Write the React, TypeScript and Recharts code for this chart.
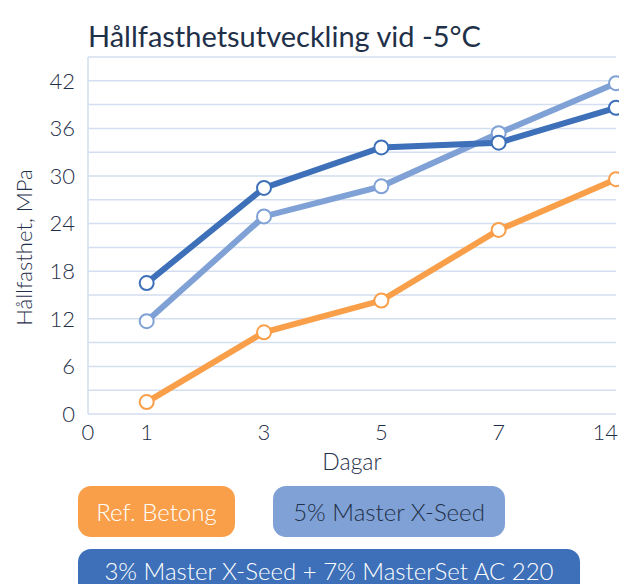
import React from 'react';
import { LineChart, Line, XAxis, YAxis, CartesianGrid, Label } from 'recharts';

// Days of measurement and where each sits on the (broken) x axis
const days = [1, 3, 5, 7, 14];
const dayAxisPositions = [1, 3, 5, 7, 9];

// Compressive strength, MPa
const refBetong = [1.5, 10.3, 14.3, 23.2, 29.6];
const masterXSeed5 = [11.7, 24.9, 28.7, 35.4, 41.7];
const xSeed3Set7 = [16.5, 28.5, 33.6, 34.2, 38.6];

// Axis ticks
const xTickPositions = [0, 1, 3, 5, 7, 9];
const xTickLabels = ['0', '1', '3', '5', '7', '14'];
const yTicks = [0, 3, 6, 9, 12, 15, 18, 21, 24, 27, 30, 33, 36, 39, 42, 45];
const yLabelledTicks = [0, 6, 12, 18, 24, 30, 36, 42];

const seriesNames = ['Ref. Betong', '5% Master X-Seed', '3% Master X-Seed + 7% MasterSet AC 220'];
const title = 'Hållfasthetsutveckling vid -5°C';
const yTitle = 'Hållfasthet, MPa';
const xTitle = 'Dagar';

const ORANGE = '#F99F49';
const LIGHT = '#7FA1D5';
const DARK = '#3D70B8';
const GRID = '#D3DEF0';
const TEXT = '#1F3049';
const FONT = 'Lato, "Open Sans", sans-serif';

const data = days.map((d, i) => ({
  pos: dayAxisPositions[i],
  day: d,
  ref: refBetong[i],
  x5: masterXSeed5[i],
  x3: xSeed3Set7[i],
}));

const dotStyle = (color: string) => ({ r: 7, fill: '#fff', stroke: color, strokeWidth: 2 });

const XTick = (props: any) => {
  const { x, y, payload, index } = props;
  const label = xTickLabels[xTickPositions.indexOf(payload.value)] ?? '';
  const isLast = index === xTickPositions.length - 1;
  return (
    <text
      x={isLast ? 618 : x}
      y={y}
      dy="0.71em"
      textAnchor={isLast ? 'end' : 'middle'}
      fill={TEXT}
      fontSize={22}
      fontWeight={300}
      fontFamily={FONT}
    >
      {label}
    </text>
  );
};

export default function App() {
  return (
    <div
      style={{
        position: 'fixed',
        left: 0,
        top: 0,
        width: 619,
        height: 584,
        overflow: 'hidden',
        background: '#fff',
        fontFamily: FONT,
      }}
    >
      <LineChart
        width={619}
        height={584}
        data={data}
        margin={{ top: 57, right: 3, bottom: 110, left: 28 }}
        style={{ fontFamily: FONT }}
      >
        <CartesianGrid vertical={false} stroke={GRID} strokeWidth={1.5} />
        <XAxis
          type="number"
          dataKey="pos"
          domain={[0, 9]}
          ticks={xTickPositions}
          interval={0}
          axisLine={false}
          tickLine={false}
          tickSize={0}
          tickMargin={10}
          height={60}
          tick={<XTick />}
        >
          <Label
            content={(props: any) => {
              const vb = props.viewBox || {};
              return (
                <text
                  x={vb.x + vb.width / 2}
                  y={vb.y + 56}
                  textAnchor="middle"
                  fill={TEXT}
                  fontSize={23}
                  fontWeight={300}
                  fontFamily={FONT}
                >
                  {xTitle}
                </text>
              );
            }}
          />
        </XAxis>
        <YAxis
          type="number"
          domain={[0, 45]}
          ticks={yTicks}
          interval={0}
          tickFormatter={(v: number) => (yLabelledTicks.includes(v) ? String(v) : '')}
          axisLine={{ stroke: GRID, strokeWidth: 1.5 }}
          tickLine={false}
          tickSize={0}
          tickMargin={13}
          width={60}
          tick={{ fill: TEXT, fontSize: 22, fontWeight: 300, fontFamily: FONT }}
        >
          <Label
            content={(props: any) => {
              const vb = props.viewBox || {};
              const cx = 31.5;
              const cy = vb.y + vb.height / 2 + 12;
              return (
                <text
                  x={cx}
                  y={cy}
                  transform={`rotate(-90 ${cx} ${cy})`}
                  textAnchor="middle"
                  fill={TEXT}
                  fontSize={22}
                  fontWeight={300}
                  fontFamily={FONT}
                >
                  {yTitle}
                </text>
              );
            }}
          />
        </YAxis>
        <Line
          type="linear"
          dataKey="ref"
          name={seriesNames[0]}
          stroke={ORANGE}
          strokeWidth={6}
          dot={dotStyle(ORANGE)}
          activeDot={false}
          isAnimationActive={false}
        />
        <Line
          type="linear"
          dataKey="x5"
          name={seriesNames[1]}
          stroke={LIGHT}
          strokeWidth={6}
          dot={dotStyle(LIGHT)}
          activeDot={false}
          isAnimationActive={false}
        />
        <Line
          type="linear"
          dataKey="x3"
          name={seriesNames[2]}
          stroke={DARK}
          strokeWidth={6}
          dot={dotStyle(DARK)}
          activeDot={false}
          isAnimationActive={false}
        />
      </LineChart>

      <svg
        width={619}
        height={60}
        style={{ position: 'absolute', left: 0, top: 0, overflow: 'visible' }}
      >
        <text x={88} y={47} fill={TEXT} fontSize={29} fontFamily={FONT}>
          {title}
        </text>
      </svg>

      {[
        { name: seriesNames[0], bg: ORANGE, color: '#fff', left: 78, top: 486, width: 157, height: 51, radius: '13px', pad: 0, align: 'center' },
        { name: seriesNames[1], bg: LIGHT, color: TEXT, left: 273, top: 486, width: 232, height: 51, radius: '13px', pad: 0, align: 'center' },
        { name: seriesNames[2], bg: DARK, color: '#fff', left: 78, top: 549, width: 502, height: 35, radius: '13px 13px 0 0', pad: 10, align: 'flex-start' },
      ].map((p) => (
        <div
          key={p.name}
          style={{
            position: 'absolute',
            left: p.left,
            top: p.top,
            width: p.width,
            height: p.height,
            boxSizing: 'border-box',
            paddingTop: p.pad,
            background: p.bg,
            color: p.color,
            borderRadius: p.radius,
            display: 'flex',
            alignItems: p.align,
            justifyContent: 'center',
            fontSize: 24,
            lineHeight: '24px',
            fontWeight: 300,
            fontFamily: FONT,
            whiteSpace: 'nowrap',
          }}
        >
          {p.name}
        </div>
      ))}
    </div>
  );
}
